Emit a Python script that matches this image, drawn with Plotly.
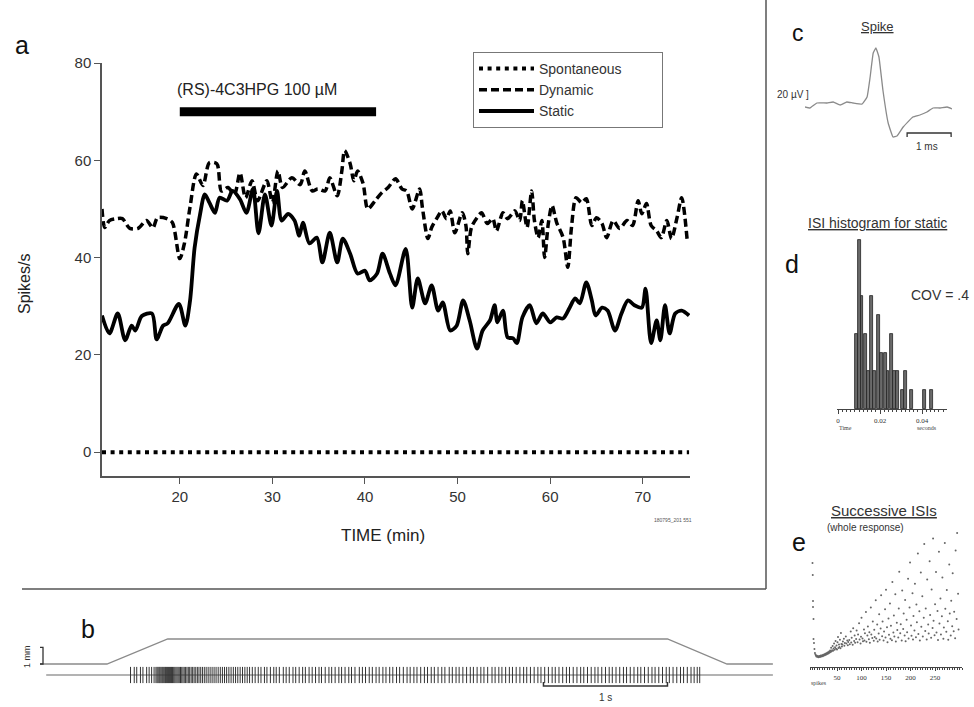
import plotly.graph_objects as go

W, H = 974, 707
FONT = "Liberation Sans, Arial, sans-serif"
SERIF = "Liberation Serif, DejaVu Serif, serif"

# ---------------- Panel a data ----------------
static_t = [11.6, 12.4, 13.3, 14.1, 14.8, 15.2, 15.9, 17.0, 17.5, 18.2, 18.7, 19.9, 20.6, 21.1, 21.6,
            22.2, 22.7, 23.2, 23.8, 24.3, 25.1, 25.7, 26.5, 27.2, 27.9, 28.5, 29.2, 29.9, 30.5, 31.0,
            31.7, 32.4, 32.9, 33.3, 34.0, 34.8, 35.4, 36.2, 37.0, 37.6, 38.4, 39.2, 40.0, 40.5, 41.3,
            41.9, 42.7, 43.3, 44.4, 45.1, 45.7, 46.5, 47.2, 47.9, 48.4, 49.2, 49.9, 50.6, 51.3, 52.1,
            52.7, 53.5, 54.0, 54.3, 54.9, 55.4, 56.0, 56.4, 57.0, 57.8, 58.5, 59.2, 60.0, 60.7, 61.4,
            62.1, 62.7, 63.2, 63.9, 64.5, 64.9, 65.6, 66.2, 67.0, 67.7, 68.4, 69.1, 69.9, 70.3, 70.9,
            71.5, 71.9, 72.4, 72.9, 73.5, 74.2, 75.0]
static_v = [28.1, 24.4, 28.5, 23.0, 26.0, 25.0, 28.0, 28.5, 23.2, 26.0, 26.5, 30.5, 26.0, 31.0, 42.0,
            49.0, 53.0, 51.3, 49.2, 52.3, 51.7, 53.7, 52.0, 49.2, 54.1, 45.0, 53.0, 46.6, 53.7, 47.6,
            49.0, 47.6, 44.5, 47.2, 42.9, 44.1, 39.0, 45.1, 39.0, 43.9, 40.8, 36.7, 37.3, 35.3, 36.7,
            40.8, 36.7, 34.3, 41.8, 29.7, 35.7, 30.6, 34.3, 29.1, 30.8, 25.0, 26.0, 31.2, 27.1, 21.3,
            25.0, 27.1, 30.2, 26.7, 29.1, 23.6, 23.4, 22.4, 27.7, 30.2, 26.5, 28.5, 26.7, 27.7, 27.5,
            29.7, 31.6, 30.6, 34.9, 31.2, 28.1, 29.7, 29.1, 25.0, 28.5, 31.2, 30.2, 29.7, 33.6, 22.4,
            27.1, 23.0, 30.2, 24.4, 28.5, 29.1, 28.1]

dynamic_t = [11.6, 11.9, 12.4, 13.2, 13.8, 14.6, 15.5, 16.4, 17.1, 17.6, 18.6, 19.2, 20.0, 20.5, 21.1,
             21.8, 22.5, 23.2, 24.0, 24.5, 25.2, 25.9, 26.5, 27.1, 27.8, 28.4, 29.4, 30.0, 30.6, 31.1,
             32.1, 33.0, 33.5, 34.3, 34.9, 35.7, 36.2, 37.0, 37.5, 37.8, 38.4, 38.8, 39.2, 39.8, 40.3,
             41.1, 41.8, 42.5, 43.3, 44.0, 44.5, 45.1, 45.9, 46.2, 46.8, 47.2, 47.8, 48.3, 48.8, 49.2,
             49.7, 50.5, 50.9, 51.1, 51.5, 52.1, 52.6, 53.2, 53.8, 54.2, 54.9, 55.4, 56.2, 56.7, 57.0,
             57.5, 58.0, 58.3, 58.7, 59.1, 59.4, 59.8, 60.2, 60.7, 61.4, 61.9, 62.3, 62.8, 63.4, 63.9,
             64.5, 65.0, 65.6, 66.1, 66.8, 67.5, 68.3, 68.9, 69.5, 69.9, 70.4, 70.9, 71.5, 72.0, 72.6,
             73.1, 73.7, 74.2, 74.8]
dynamic_v = [50.0, 46.2, 47.6, 48.0, 48.0, 46.0, 46.0, 47.6, 46.1, 48.2, 48.0, 47.2, 39.8, 42.9, 50.3,
             57.2, 54.8, 59.5, 59.3, 53.7, 54.4, 53.0, 57.4, 52.3, 55.8, 51.7, 55.8, 51.3, 57.8, 54.4,
             56.4, 55.0, 57.8, 53.7, 54.1, 53.7, 56.4, 52.7, 57.8, 62.0, 59.3, 55.8, 57.8, 55.2, 50.0,
             51.7, 53.3, 54.4, 56.2, 54.1, 53.7, 50.0, 54.1, 50.3, 43.9, 46.2, 48.2, 49.6, 48.0, 49.6,
             45.1, 49.2, 46.6, 40.8, 46.2, 48.2, 49.2, 47.0, 48.0, 45.5, 49.2, 48.0, 49.6, 47.6, 51.7,
             46.2, 53.7, 47.6, 44.1, 47.6, 40.0, 47.0, 50.7, 47.2, 44.1, 38.0, 46.2, 52.3, 51.3, 52.1,
             46.6, 48.2, 47.0, 44.1, 47.6, 46.0, 47.6, 46.6, 51.7, 49.0, 51.1, 46.6, 45.5, 44.1, 47.6,
             43.9, 48.2, 52.3, 43.5]

spont_t = [11.6, 75.0]
spont_v = [0, 0]

drug_t = [20.0, 41.2]
drug_level = [70, 70]
drug_label = "(RS)-4C3HPG 100 µM"

a_xticks = [20, 30, 40, 50, 60, 70]
a_yticks = [0, 20, 40, 60, 80]

# ---------------- Panel b data (seconds, mm) ----------------
ramp_t = [0.0, 0.54, 1.03, 5.06, 5.54, 5.91]
ramp_mm = [0.0, 0.0, 1.5, 1.5, 0.0, 0.0]
base_t = [0.05, 5.91]
spike_times = [0.73, 0.76, 0.78, 0.81, 0.83, 0.86, 0.88, 0.90, 0.92,
               0.935, 0.944, 0.952, 0.960, 0.967, 0.975, 0.983, 0.990, 0.998, 1.006, 1.013, 1.021,
               1.029, 1.037, 1.045, 1.053, 1.061, 1.069, 1.078, 1.087, 1.096, 1.105, 1.114, 1.123,
               1.133, 1.143, 1.153, 1.163, 1.174, 1.185, 1.196, 1.207, 1.219, 1.231, 1.243, 1.256,
               1.269, 1.282,
               1.296, 1.31, 1.325, 1.34, 1.356, 1.372, 1.388, 1.404, 1.42, 1.437, 1.454, 1.471, 1.488,
               1.505, 1.523, 1.541, 1.559, 1.577, 1.595, 1.614, 1.633, 1.652, 1.671, 1.69,
               1.712, 1.735, 1.76, 1.782, 1.81, 1.83, 1.858, 1.885, 1.905, 1.93, 1.962, 1.985, 2.01,
               2.04, 2.062, 2.09, 2.118, 2.14, 2.17, 2.195, 2.222, 2.25, 2.27, 2.30, 2.33, 2.352,
               2.38, 2.41, 2.432, 2.46, 2.49, 2.512, 2.54, 2.575, 2.6, 2.625, 2.655, 2.68, 2.71,
               2.735, 2.765, 2.79, 2.82, 2.845, 2.875, 2.9, 2.93, 2.96, 2.985, 3.015, 3.04, 3.07,
               3.1, 3.125, 3.155, 3.18, 3.21, 3.24, 3.265, 3.30, 3.325, 3.355, 3.38, 3.41, 3.44,
               3.47, 3.495, 3.525, 3.555, 3.58, 3.61, 3.645, 3.67, 3.70, 3.725, 3.755, 3.785, 3.81,
               3.84, 3.87, 3.9, 3.925, 3.955, 3.985, 4.015, 4.04, 4.07, 4.1, 4.13, 4.155, 4.185,
               4.215, 4.245, 4.27, 4.30, 4.33, 4.36, 4.385, 4.415, 4.445, 4.475, 4.50, 4.53, 4.56,
               4.59, 4.615, 4.645, 4.675, 4.705, 4.73, 4.76, 4.79, 4.82, 4.845, 4.875, 4.905, 4.935,
               4.96, 4.99, 5.02, 5.05, 5.075, 5.105, 5.135, 5.165, 5.19, 5.22, 5.25, 5.275, 5.30, 5.32]
scale_s = [4.06, 5.06]

# ---------------- Panel c data (ms, µV) ----------------
wave_ms = [0.0, 0.11, 0.27, 0.5, 0.64, 0.8, 0.95, 1.09, 1.3, 1.41, 1.48, 1.55, 1.61, 1.68, 1.77,
           1.89, 2.0, 2.09, 2.23, 2.45, 2.61, 2.77, 2.91, 3.07, 3.23, 3.34]
wave_uv = [-7.5, -10, 2.5, 2.5, 5, -2.5, 5, 2.5, 0, 17.5, 67.5, 127.5, 140, 117.5, 35,
           -47.5, -82.5, -80, -57.5, -32.5, -27.5, -20, -10, -10, -7.5, -12.5]
scale_ms = [2.32, 3.32]

# ---------------- Panel d data (ISI histogram) ----------------
isi_bin_s = [0.0090, 0.0101, 0.0114, 0.0129, 0.0145, 0.0159, 0.0175, 0.0192, 0.0208, 0.0224,
             0.0238, 0.0254, 0.0270, 0.0284, 0.0308, 0.0322, 0.0351, 0.0410, 0.0446]
isi_count = [4, 9, 6, 4, 2, 6, 2, 5, 3, 3, 2, 4, 2, 2, 1, 2, 1, 1, 1]
d_ticks = [0, 0.02, 0.04]

# ---------------- Panel e data (successive ISIs, ms) ----------------
e_n = [0, 0.5, 1, 1, 2, 2, 3, 4,
       5, 6, 7, 8, 9, 10, 11, 12, 13, 14, 15, 16, 17, 18, 19, 20, 21, 22, 23, 24, 25, 26, 27, 28,
       29, 30, 31, 32, 33, 34, 35, 36, 37, 38, 39, 40, 41, 42, 43, 44, 45, 46, 47, 48, 49, 50, 51,
       52, 53, 54, 55, 56, 57, 58, 59, 60,
       61, 62, 64, 65, 66, 68, 69, 71, 72, 73,
       75, 76, 78, 79, 80, 82, 83, 85, 86, 87, 89, 90,
       92, 93, 95, 96, 98, 99, 100, 102, 103, 105, 106, 107,
       109, 110, 112, 113, 115, 116, 117, 119, 120, 122, 123,
       125, 126, 127, 129, 130, 132, 133, 135, 136, 137, 139, 140,
       142, 143, 145, 146, 148, 149, 150, 152, 153, 155, 156,
       158, 159, 160, 162, 163, 165, 166, 167, 169, 170, 172, 173,
       175, 176, 177, 179, 180, 182, 183, 185, 186, 188, 189, 190,
       192, 193, 195, 196, 198, 199, 201, 202, 204, 205, 206,
       208, 209, 211, 212, 213, 215, 216, 218, 219, 221, 222,
       224, 225, 227, 228, 230, 231, 233, 234, 236, 237, 239, 240,
       242, 243, 245, 246, 247, 249, 250, 252, 253, 255, 256, 258, 259,
       261, 262, 264, 265, 267, 268, 270, 271, 273, 274, 276, 277, 279, 280,
       282, 283, 285, 286, 288, 289, 291, 292, 294, 295, 297, 298]
e_isi = [52, 46, 33, 30, 24, 14, 12, 9,
         7, 6.2, 5.8, 5.3, 5.6, 5.1, 5.4, 4.9, 5.2, 5.5, 5, 5.3, 5.8, 5.2, 5.6, 5.9, 5.4, 6.1, 5.7,
         6.3, 5.9, 6.6, 6.1, 6.8, 6.4, 7.1, 6.6, 7.4, 6.9, 7.8, 7.2, 8.3, 7.5, 9.6, 7.9, 8.4, 10.5,
         8.1, 9.2, 11.8, 8.6, 9.9, 13, 9.1, 10.7, 8.8, 12.4, 15, 9.5, 11.2, 10, 13.6, 9.4, 17, 11.5,
         10.2,
         11.2, 12.8, 14.1, 10.6, 12.0, 15.3, 11.7, 13.2, 10.9, 12.5,
         13.5, 11.4, 17.8, 12.3, 14.6, 11.1, 19.4, 13.0, 15.7, 12.1, 14.0, 18.2,
         12.4, 16.3, 21.9, 13.7, 11.8, 15.1, 24.6, 14.2, 12.9, 18.7, 13.3, 16.9,
         27.5, 12.6, 15.8, 20.3, 13.9, 17.4, 12.1, 29.8, 16.2, 14.5, 22.7,
         13.1, 18.6, 15.0, 33.4, 14.3, 21.2, 12.7, 16.8, 26.4, 13.6, 19.3, 35.9,
         15.4, 22.8, 13.2, 17.7, 28.9, 14.8, 38.6, 19.9, 12.4, 24.3, 16.1,
         31.7, 14.1, 20.6, 13.4, 42.5, 17.3, 25.8, 15.2, 36.4, 12.8, 22.1, 18.5,
         14.7, 29.2, 47.6, 16.9, 21.4, 13.3, 38.2, 19.0, 26.7, 15.8, 33.5, 12.9,
         23.6, 17.4, 44.1, 14.2, 29.7, 52.3, 20.8, 15.6, 36.9, 13.7, 25.5,
         18.3, 41.6, 14.9, 31.2, 22.4, 56.8, 16.5, 27.9, 13.2, 47.3, 20.1,
         35.4, 15.3, 24.6, 61.5, 18.0, 29.3, 13.8, 43.7, 21.2, 16.7, 52.9, 26.0,
         14.6, 38.8, 19.5, 64.2, 23.1, 15.9, 31.4, 47.5, 17.2, 28.0, 13.5, 57.6, 21.7,
         34.2, 16.3, 25.4, 44.8, 14.1, 19.8, 62.0, 29.1, 17.6, 38.5, 22.9, 13.6, 51.2, 26.8,
         15.7, 33.1, 20.4, 46.9, 17.9, 27.6, 14.4, 58.3, 24.0, 67.0, 36.6, 18.8]
e_ticks = [50, 100, 150, 200, 250]


def PX(px):
    return px / W


def PY(py):
    return 1 - py / H


fig = go.Figure()

# Panel a traces
fig.add_trace(go.Scatter(x=spont_t, y=spont_v, mode="lines",
                         name="Spontaneous" + "\u00a0" * 9,
                         line=dict(color="black", width=4, dash="4px,4.6px"),
                         xaxis="x", yaxis="y"))
fig.add_trace(go.Scatter(x=dynamic_t, y=dynamic_v, mode="lines", name="Dynamic",
                         line=dict(color="black", width=3.5, dash="8px,4px", shape="spline", smoothing=0.8),
                         xaxis="x", yaxis="y"))
fig.add_trace(go.Scatter(x=static_t, y=static_v, mode="lines", name="Static",
                         line=dict(color="black", width=3.8, shape="spline", smoothing=0.8),
                         xaxis="x", yaxis="y"))
fig.add_trace(go.Scatter(x=drug_t, y=drug_level, mode="lines", showlegend=False,
                         line=dict(color="black", width=9), xaxis="x", yaxis="y"))

# Panel b traces
fig.add_trace(go.Scatter(x=ramp_t, y=ramp_mm, mode="lines", showlegend=False,
                         line=dict(color="#8a8a8a", width=1.3), xaxis="x2", yaxis="y2"))
fig.add_trace(go.Scatter(x=base_t, y=[0, 0], mode="lines", showlegend=False,
                         line=dict(color="#9a9a9a", width=1.3), xaxis="x2", yaxis="y3"))
rx, ry = [], []
for t in spike_times:
    rx += [t, t, None]
    ry += [-0.9, 0.9, None]
fig.add_trace(go.Scatter(x=rx, y=ry, mode="lines", showlegend=False,
                         line=dict(color="#333333", width=1), xaxis="x2", yaxis="y3"))

# Panel c trace
fig.add_trace(go.Scatter(x=wave_ms, y=wave_uv, mode="lines", showlegend=False,
                         line=dict(color="#8a8a8a", width=1.3, shape="spline", smoothing=0.3),
                         xaxis="x4", yaxis="y4"))

# Panel d trace
fig.add_trace(go.Bar(x=isi_bin_s, y=isi_count, width=0.0014, showlegend=False,
                     marker=dict(color="#6a6a6a", line=dict(color="#222222", width=0.8)),
                     xaxis="x5", yaxis="y5"))

# Panel e trace
fig.add_trace(go.Scatter(x=e_n, y=e_isi, mode="markers", showlegend=False,
                         marker=dict(color="#666666", size=2), xaxis="x6", yaxis="y6"))

axcommon = dict(showgrid=False, zeroline=False, automargin=False)

fig.update_layout(
    width=W, height=H, margin=dict(l=0, r=0, t=0, b=0, pad=0, autoexpand=False),
    paper_bgcolor="white", plot_bgcolor="white",
    font=dict(family=FONT, color="#222"),
    xaxis=dict(domain=[PX(102), PX(690)], range=[11.6, 75.1], anchor="y",
               tickvals=a_xticks, ticks="outside", ticklen=6, tickcolor="#555", tickwidth=1.3,
               showline=True, linecolor="#555", linewidth=1.5,
               tickfont=dict(size=15, color="#333"), **axcommon),
    yaxis=dict(domain=[PY(476), PY(63)], range=[-4.9, 80], anchor="x",
               tickvals=a_yticks, ticks="outside", ticklen=6, tickcolor="#555", tickwidth=1.3,
               showline=True, linecolor="#555", linewidth=1.5,
               tickfont=dict(size=15, color="#333"), **axcommon),
    xaxis2=dict(domain=[PX(40), PX(773)], range=[0, 5.911], anchor="y2", visible=False, **axcommon),
    yaxis2=dict(domain=[PY(672), PY(631)], range=[-0.48, 1.98], anchor="x2", visible=False, **axcommon),
    yaxis3=dict(domain=[PY(684), PY(666)], range=[-1, 1], anchor="x2", visible=False, **axcommon),
    xaxis4=dict(domain=[PX(805), PX(952)], range=[0, 3.34], anchor="y4", visible=False, **axcommon),
    yaxis4=dict(domain=[PY(145), PY(40)], range=[-102.5, 160], anchor="x4", visible=False, **axcommon),
    xaxis5=dict(domain=[PX(837), PX(947)], range=[-0.0005, 0.0519], anchor="y5",
                tickvals=d_ticks, ticktext=["0", "0.02", "0.04"], ticks="outside", ticklen=4,
                tickcolor="#444", showline=True, linecolor="#444", linewidth=1.2,
                minor=dict(tickmode="linear", tick0=0, dtick=0.002, ticks="outside", ticklen=2,
                           tickcolor="#444"),
                tickfont=dict(size=7, family=SERIF, color="#333"), **axcommon),
    yaxis5=dict(domain=[PY(409), PY(231)], range=[0, 9.47], anchor="x5", visible=False, **axcommon),
    xaxis6=dict(domain=[PX(810), PX(962)], range=[-5.1, 305], anchor="y6",
                tickvals=e_ticks, ticks="outside", ticklen=3, tickcolor="#444",
                showline=True, linecolor="#444", linewidth=1.2,
                minor=dict(tickmode="linear", tick0=0, dtick=5, ticks="outside", ticklen=2,
                           tickcolor="#444"),
                tickfont=dict(size=7, family=SERIF, color="#333"), **axcommon),
    yaxis6=dict(domain=[PY(667), PY(527)], range=[0, 70], anchor="x6", visible=False, **axcommon),
    bargap=0,
    legend=dict(x=PX(473), y=PY(52), xanchor="left", yanchor="top",
                bordercolor="#777", borderwidth=1, bgcolor="white",
                font=dict(size=14, color="#333", family=FONT), tracegroupgap=0,
                itemwidth=55),
)

shapes = [
    dict(type="line", xref="paper", yref="paper", x0=PX(22), x1=PX(766), y0=PY(589), y1=PY(589),
         line=dict(color="#555", width=1.5)),
    dict(type="line", xref="paper", yref="paper", x0=PX(766), x1=PX(766), y0=PY(0), y1=PY(589),
         line=dict(color="#555", width=1.5)),
    # 1 s scale bar
    dict(type="path", xref="x2", yref="paper",
         path=f"M {scale_s[0]},{PY(682)} L {scale_s[0]},{PY(686)} L {scale_s[1]},{PY(686)} L {scale_s[1]},{PY(682)}",
         line=dict(color="#333", width=1.5)),
    # 1 mm bracket
    dict(type="path", xref="paper", yref="y2",
         path=f"M {PX(40)},1 L {PX(43)},1 L {PX(43)},0 L {PX(40)},0",
         line=dict(color="#333", width=1.3)),
    # 1 ms scale bar
    dict(type="path", xref="x4", yref="paper",
         path=f"M {scale_ms[0]},{PY(137)} L {scale_ms[0]},{PY(133)} L {scale_ms[1]},{PY(133)} L {scale_ms[1]},{PY(137)}",
         line=dict(color="#333", width=1.3)),
]
fig.update_layout(shapes=shapes)


def ann(text, px, py, size, xanchor="center", yanchor="middle", color="#222", family=FONT, **kw):
    return dict(text=text, x=PX(px), y=PY(py), xref="paper", yref="paper", showarrow=False,
                xanchor=xanchor, yanchor=yanchor, font=dict(size=size, color=color, family=family), **kw)


annotations = [
    ann("a", 22, 45, 25, color="#111"),
    ann("b", 88, 629, 25, color="#111"),
    ann("c", 798, 33, 23, color="#111"),
    ann("d", 792, 264, 25, color="#111"),
    ann("e", 799, 542, 25, color="#111"),
    ann("Spikes/s", 24, 284, 16, textangle=-90, color="#222"),
    ann("TIME (min)", 383, 535, 17, color="#222"),
    ann("180795_201 551", 673, 520, 5, color="#555"),
    dict(text=drug_label, x=19.45, y=74.6, xref="x", yref="y", showarrow=False, xanchor="left",
         yanchor="middle", font=dict(size=16, color="#222", family=FONT)),
    ann("1 mm", 27, 657, 9, textangle=-90, color="#333"),
    ann("1 s", 605, 697, 10, color="#333"),
    ann("<u>Spike</u>", 877, 26, 13, color="#333"),
    ann("20 µV ]", 811, 94, 10, xanchor="right", color="#333"),
    ann("1 ms", 927, 147, 10, color="#333"),
    ann("<u>ISI histogram for static</u>", 877, 223, 14, color="#333"),
    ann("COV = .4", 971, 295, 14, xanchor="right", color="#333"),
    ann("Time", 845, 428, 6, family=SERIF, color="#444"),
    ann("seconds", 927, 428, 6, family=SERIF, color="#444"),
    ann("<u>Successive ISIs</u>", 884, 510, 15, color="#333"),
    ann("(whole response)", 865, 527, 10, color="#333"),
    ann("spikes", 819, 683, 6, family=SERIF, color="#444"),
]
fig.update_layout(annotations=annotations)

fig.write_html("out.html", post_script="document.body.style.margin='0px';")
